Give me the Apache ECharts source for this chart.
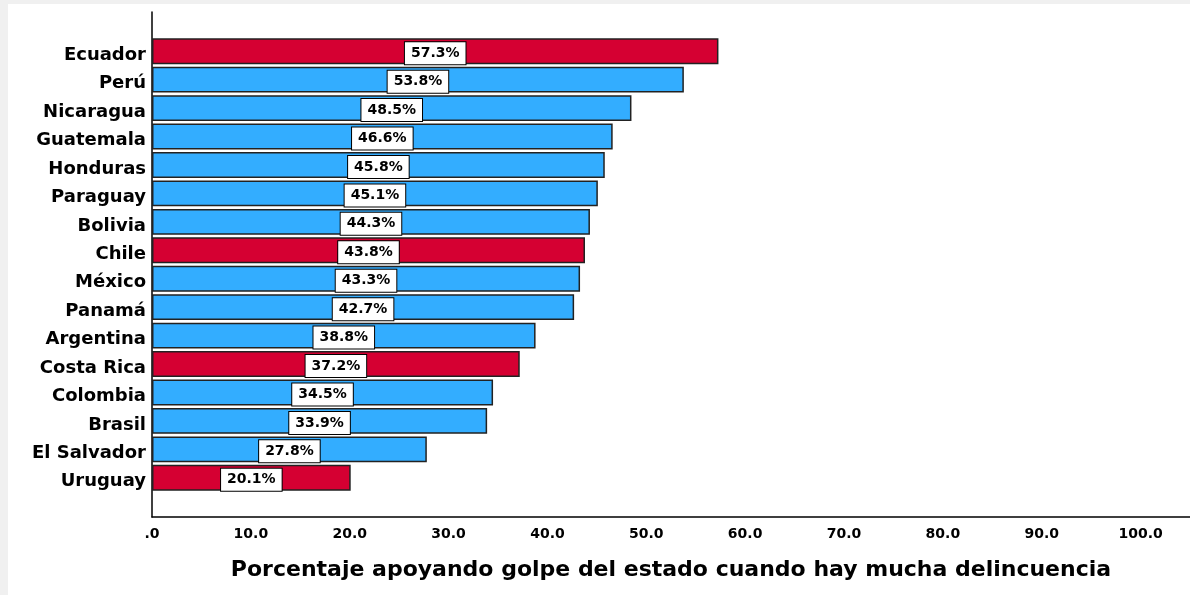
<!DOCTYPE html>
<html>
<head>
<meta charset="utf-8">
<script src="https://cdn.jsdelivr.net/npm/echarts@6/dist/echarts.min.js"></script>
<style>
    html, body { margin: 0; padding: 0; background: #f0f0f0; }
    #myChart { position: absolute; left: 8px; top: 4px; width: 1182px; height: 591px; background: #fff; }
</style>
</head>
<body>
<div id="myChart"></div>
<script>
// datos
var countries = ['Ecuador', 'Perú', 'Nicaragua', 'Guatemala', 'Honduras', 'Paraguay', 'Bolivia', 'Chile',
    'México', 'Panamá', 'Argentina', 'Costa Rica', 'Colombia', 'Brasil', 'El Salvador', 'Uruguay'];
var percentages = [57.3, 53.8, 48.5, 46.6, 45.8, 45.1, 44.3, 43.8, 43.3, 42.7, 38.8, 37.2, 34.5, 33.9, 27.8, 20.1];
var highlighted = ['Ecuador', 'Chile', 'Costa Rica', 'Uruguay'];
var xTicks = [0, 10, 20, 30, 40, 50, 60, 70, 80, 90, 100];
var xTitle = 'Porcentaje apoyando golpe del estado cuando hay mucha delincuencia';

document.addEventListener('DOMContentLoaded', () => {
    var myChart = echarts.init(document.getElementById('myChart'));
    var font = 'DejaVu Sans';

    var barData = percentages.map((v, i) => ({
        value: v,
        itemStyle: { color: highlighted.indexOf(countries[i]) >= 0 ? '#d50032' : '#33adff' }
    }));

    myChart.setOption({
        animation: false,
        grid: [
            // marco con los ejes
            { left: 144, right: 0, top: 8, bottom: 78 },
            // barras
            { left: 144, right: 0, top: 33, bottom: 103 }
        ],
        xAxis: [{
            gridIndex: 0,
            type: 'value',
            min: 0,
            max: 105,
            interval: 10,
            axisLine: { show: true, lineStyle: { color: '#000', width: 1.5 } },
            axisTick: { show: false },
            splitLine: { show: false },
            axisLabel: {
                showMaxLabel: false,
                margin: 10,
                color: '#000',
                fontFamily: font,
                fontWeight: 'bold',
                fontSize: 14,
                formatter: v => xTicks.indexOf(v) < 0 ? '' : (v === 0 ? '.0' : v.toFixed(1))
            },
            name: xTitle,
            nameLocation: 'middle',
            nameGap: 42,
            nameTextStyle: { color: '#000', fontFamily: font, fontWeight: 'bold', fontSize: 22 }
        }, {
            gridIndex: 1,
            type: 'value',
            min: 0,
            max: 105,
            show: false
        }],
        yAxis: [{
            gridIndex: 0,
            type: 'value',
            axisLine: { show: true, lineStyle: { color: '#000', width: 1.5 } },
            axisTick: { show: false },
            axisLabel: { show: false },
            splitLine: { show: false }
        }, {
            gridIndex: 1,
            type: 'category',
            inverse: true,
            data: countries,
            axisLine: { show: false },
            axisTick: { show: false },
            axisLabel: {
                margin: 6,
                verticalAlign: 'top',
                lineHeight: 8,
                color: '#000',
                fontFamily: font,
                fontWeight: 'bold',
                fontSize: 18
            }
        }],
        series: [{
            type: 'bar',
            xAxisIndex: 1,
            yAxisIndex: 1,
            data: barData,
            barCategoryGap: '9%',
            itemStyle: { borderColor: '#222', borderWidth: 1.5 },
            label: {
                show: true,
                position: 'inside',
                offset: [0, 2],
                formatter: p => p.value.toFixed(1) + '%',
                color: '#000',
                fontFamily: font,
                fontWeight: 'bold',
                fontSize: 14,
                backgroundColor: '#fff',
                borderColor: '#000',
                borderWidth: 1,
                padding: [4, 6]
            }
        }]
    });
});
</script>
</body>
</html>
